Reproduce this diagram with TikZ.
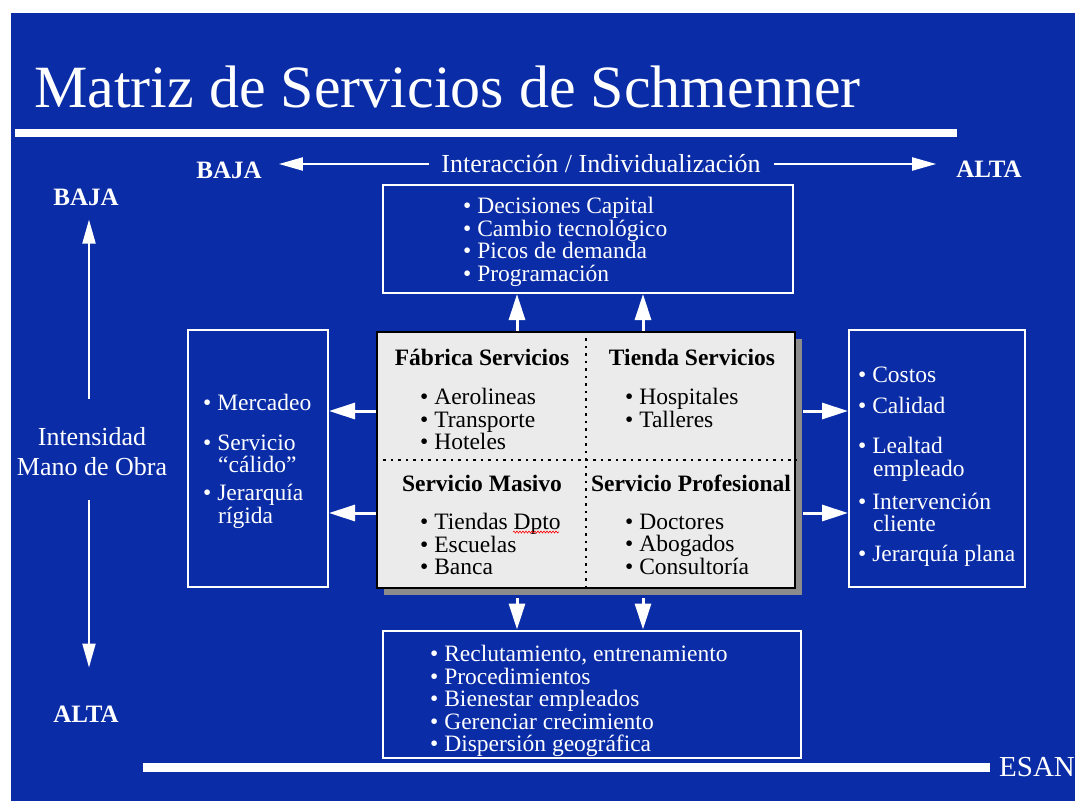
\documentclass[tikz,border=0pt]{standalone}
\usepackage{fontspec}
\setmainfont{Liberation Serif}
\usetikzlibrary{positioning, arrows.meta, shadows, decorations.pathmorphing}

\definecolor{fondo}{RGB}{10,44,166}
\definecolor{grisclaro}{RGB}{235,235,235}
\definecolor{sombra}{RGB}{140,140,140}

\begin{document}
\begin{tikzpicture}[
    x=1pt, y=-1pt,
    wbox/.style={draw=white, line width=2pt},
    txt/.style={text=white, font=\fontsize{23.5}{22.5}\selectfont, align=left, inner sep=0pt},
    qtxt/.style={text=black, font=\fontsize{23.5}{22.5}\selectfont, align=left, inner sep=0pt},
    head/.style={font=\bfseries\fontsize{23.5}{22.5}\selectfont, inner sep=0pt},
    axis/.style={text=white, font=\bfseries\fontsize{25}{25}\selectfont, inner sep=0pt},
    eje/.style={draw=white, line width=2pt, -{Triangle[length=24pt,width=13pt]}},
    flecha/.style={draw=white, line width=3pt, -{Triangle[length=26pt,width=16pt]}},
]

% Background
\useasboundingbox (0,0) rectangle (1075,801);
\fill[white] (0,0) rectangle (1075,801);
\fill[fondo] (11,13) rectangle (1075,801);

% Title
\node[txt, font=\fontsize{60}{60}\selectfont, anchor=base west] (titulo) at (34,107) {Matriz de Servicios de Schmenner};
\fill[white] (15,129) rectangle (957,137);
\fill[white] (143,763) rectangle (990,772);
\node[txt, font=\fontsize{29}{29}\selectfont, anchor=west] (esan) at (999,767) {ESAN};

% Axes
\node[axis] (bajaH) at (229,170) {BAJA};
\node[txt, font=\fontsize{26}{26}\selectfont] (inter) at (601,164) {Interacción / Individualización};
\node[axis] (altaH) at (989,169) {ALTA};
\node[axis] (bajaV) at (86,197) {BAJA};
\node[axis] (altaV) at (86,714) {ALTA};
\node[txt, font=\fontsize{26}{30}\selectfont, align=center] (intens) at (92,452) {Intensidad\\Mano de Obra};
\coordinate (ejeX) at (89,0);

% Nodes
\node[draw=black, line width=2.5pt, fill=grisclaro, minimum width=418, minimum height=256,
      drop shadow={shadow xshift=7pt, shadow yshift=-7pt, fill=sombra, opacity=1}] (matriz) at (586,460) {};
\node[wbox, minimum width=410, minimum height=108] (decis) at (588,239) {};
\node[wbox, minimum width=140, minimum height=257] (izq) at (258,458) {};
\node[wbox, minimum width=176, minimum height=257] (der) at (937,458) {};
\node[wbox, minimum width=418, minimum height=127] (personal) at (592,694) {};

% Quadrants
\draw[black, line width=2.5pt, dash pattern=on 2.5pt off 5pt] (matriz.north) -- (matriz.south);
\draw[black, line width=2.5pt, dash pattern=on 2.5pt off 5pt] (matriz.west) -- (matriz.east);
\node[head] (fabrica) at (482,357) {Fábrica Servicios};
\node[head] (tienda) at (692,357) {Tienda Servicios};
\node[head] (masivo) at (482,483) {Servicio Masivo};
\node[head] (profesional) at (691,483) {Servicio Profesional};
\node[qtxt, anchor=west] (fabricaL) at (420,419) {• Aerolineas\\• Transporte\\• Hoteles};
\node[qtxt, anchor=west] (tiendaL) at (625,408) {• Hospitales\\• Talleres};
\node[qtxt, anchor=west] (masivoL) at (420,544) {• Tiendas Dpto\\• Escuelas\\• Banca};
\node[qtxt, anchor=west] (profesionalL) at (625,544) {• Doctores\\• Abogados\\• Consultoría};
\draw[red, line width=0.6pt, decorate, decoration={snake, amplitude=1pt, segment length=3pt}] (513,532) -- (559,532);

% Texts
\node[txt, anchor=west] (decisL) at (463,242) {• Decisiones Capital\\• Cambio tecnológico\\• Picos de demanda\\• Programación};
\node[txt, anchor=west] (izqL) at (203,461) {• Mercadeo\\[17.5pt]• Servicio\\\hspace*{15pt}“cálido”\\[5.5pt]• Jerarquía\\\hspace*{15pt}rígida};
\node[txt, anchor=west] (derL) at (858,467) {• Costos\\[8.5pt]• Calidad\\[17.5pt]• Lealtad\\\hspace*{15pt}empleado\\[10.5pt]• Intervención\\\hspace*{15pt}cliente\\[7.5pt]• Jerarquía plana};
\node[txt, anchor=west] (personalL) at (430,701) {• Reclutamiento, entrenamiento\\• Procedimientos\\• Bienestar empleados\\• Gerenciar crecimiento\\• Dispersión geográfica};

% Lines
\coordinate (colA) at (517,0);
\coordinate (colB) at (643,0);
\coordinate (filA) at (0,411);
\coordinate (filB) at (0,513);
\draw[eje, shorten <=12pt, shorten >=17pt] (inter.west) -- (bajaH.east |- inter.west);
\draw[eje, shorten <=13pt, shorten >=20pt] (inter.east) -- (altaH.west |- inter.east);
\draw[eje, shorten <=29pt, shorten >=14pt] (intens.north -| ejeX) -- (bajaV.south -| ejeX);
\draw[eje, shorten <=24pt, shorten >=38pt] (intens.south -| ejeX) -- (altaV.north -| ejeX);
\draw[flecha] (matriz.north -| colA) -- (decis.south -| colA);
\draw[flecha] (matriz.north -| colB) -- (decis.south -| colB);
\draw[flecha, shorten <=9pt] (matriz.south -| colA) -- (personal.north -| colA);
\draw[flecha, shorten <=9pt] (matriz.south -| colB) -- (personal.north -| colB);
\draw[flecha] (matriz.west |- filA) -- (izq.east |- filA);
\draw[flecha] (matriz.west |- filB) -- (izq.east |- filB);
\draw[flecha, shorten <=7pt] (matriz.east |- filA) -- (der.west |- filA);
\draw[flecha, shorten <=7pt] (matriz.east |- filB) -- (der.west |- filB);

\end{tikzpicture}
\end{document}
